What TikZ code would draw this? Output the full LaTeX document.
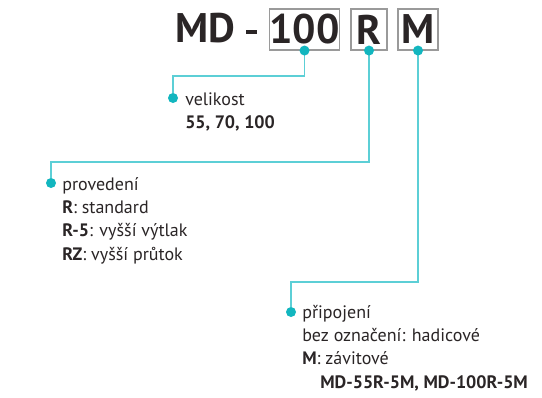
\documentclass[tikz,border=0pt]{standalone}
\usepackage{fontspec}
\setmainfont{PT Sans}
\usepackage{xcolor}
\usetikzlibrary{positioning,calc}

\definecolor{leadcol}{HTML}{5CCFD6}
\definecolor{dotcol}{HTML}{12B6BF}
\definecolor{inkcol}{HTML}{2A2526}
\definecolor{boxcol}{HTML}{9A9A9A}

\tikzset{
    code/.style={font=\fontsize{31}{31}\selectfont\bfseries, text=inkcol, inner sep=0pt},
    codebox/.style={draw=boxcol, line width=0.8pt, minimum height=30.75pt, inner sep=0pt, font=\fontsize{31}{31}\selectfont\bfseries, text=inkcol},
    lead/.style={draw=leadcol, line width=1.1pt},
    pin/.style={circle, fill=dotcol, minimum size=7.5pt, inner sep=0pt},
    desc/.style={anchor=base west, inner sep=0pt, text=inkcol, font=\fontsize{13.5}{17.5}\selectfont},
    nextline/.style={below=17.5pt of #1.base west, anchor=base west}
}

\begin{document}
\begin{tikzpicture}[x=0.75pt, y=-0.75pt]
    \useasboundingbox (0,0) rectangle (542,397);

    % type code
    \node[code, anchor=base west] (md) at (175,42) {MD};
    \node[fill=inkcol, minimum width=8.25pt, minimum height=3pt, inner sep=0pt] (dash) at (251.5,32) {};
    \node[codebox, minimum width=51.75pt] (c100) at (304.5,29.5) {100};
    \node[codebox, minimum width=27pt] (cR) at (369,29.5) {R};
    \node[codebox, minimum width=30pt] (cM) at (418,29.5) {M};

    % size
    \node[pin] (p100) at (173,98) {};
    \coordinate (k100) at (173,76);
    \node[desc] (t100a) at (185,105) {velikost};
    \node[desc, nextline=t100a] (t100b) {\textbf{55, 70, 100}};

    % design
    \node[pin] (pR) at (51,183) {};
    \coordinate (kR) at (51,162);
    \node[desc] (tRa) at (62,190) {provedení};
    \node[desc, nextline=tRa] (tRb) {\textbf{R}: standard};
    \node[desc, nextline=tRb] (tRc) {\textbf{R-5}: vyšší výtlak};
    \node[desc, nextline=tRc] (tRd) {\textbf{RZ}: vyšší průtok};

    % connection
    \node[pin] (pM) at (291,312) {};
    \coordinate (kM) at (291,282);
    \node[desc] (tMa) at (302,318) {připojení};
    \node[desc, nextline=tMa] (tMb) {bez označení: hadicové};
    \node[desc, nextline=tMb] (tMc) {\textbf{M}: závitové};
    \node[desc, below=17.5pt of tMc.base west, anchor=base west, xshift=13.5pt] (tMd) {\textbf{MD-55R-5M, MD-100R-5M}};

    % leads
    \draw[lead] (c100.south) |- (k100) -- (p100);
    \draw[lead] (cR.south) |- (kR) -- (pR);
    \draw[lead] (cM.south) |- (kM) -- (pM);
    \node[pin] at (c100.south) {};
    \node[pin] at (cR.south) {};
    \node[pin] at (cM.south) {};
\end{tikzpicture}
\end{document}
